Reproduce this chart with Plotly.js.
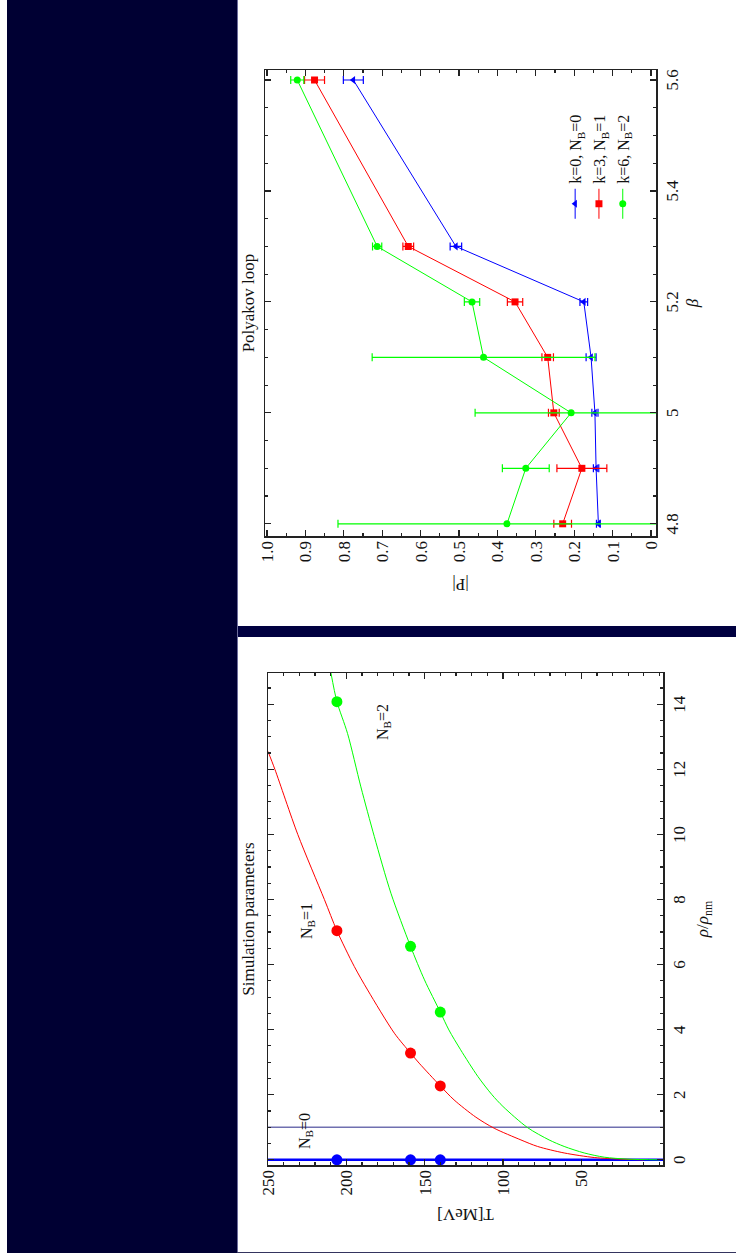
<!DOCTYPE html>
<html>
<head>
<meta charset="utf-8">
<script src="https://cdn.plot.ly/plotly-3.0.1.min.js"></script>
<style>
  html, body { margin: 0; padding: 0; width: 736px; height: 1258px; overflow: hidden; background: #ffffff; }
  /* the slide is laid out landscape and turned a quarter turn counter-clockwise */
  #slide { position: absolute; left: 0; top: 0; width: 1258px; height: 736px;
           transform-origin: 0 0; transform: translateY(1258px) rotate(-90deg); background: #ffffff; }
  #header  { position: absolute; left: 5px;   top: 7px;   width: 1253px; height: 230px; background: #000033; }
  #divider { position: absolute; left: 621px; top: 237px; width: 11px;   height: 499px; background: #000040; }
  #edgeTop { position: absolute; left: 5px;   top: 237px; width: 1253px; height: 1px;   background: #6c6c9c; }
  #edgeLeft{ position: absolute; left: 5px;   top: 237px; width: 1px;    height: 499px; background: #34345e; }
  #simPanel  { position: absolute; left: 6px;   top: 238px; width: 615px; height: 498px; }
  #polyPanel { position: absolute; left: 632px; top: 238px; width: 626px; height: 498px; }
</style>
</head>
<body>
<div id="slide">
  <div id="header"></div>
  <div id="divider"></div>
  <div id="edgeTop"></div>
  <div id="edgeLeft"></div>
  <div id="simPanel"></div>
  <div id="polyPanel"></div>
</div>
<script>
// ---------- Polyakov loop vs beta ----------
const betaValues = [4.8, 4.9, 5.0, 5.1, 5.2, 5.3, 5.6];
const polyK0 = [0.137, 0.143, 0.146, 0.156, 0.175, 0.508, 0.775];
const polyK0Err = [0.005, 0.007, 0.008, 0.013, 0.010, 0.015, 0.026];
const polyK3 = [0.230, 0.180, 0.253, 0.269, 0.354, 0.632, 0.876];
const polyK3Err = [0.023, 0.065, 0.014, 0.015, 0.020, 0.014, 0.026];
const polyK6 = [0.375, 0.326, 0.208, 0.436, 0.466, 0.713, 0.921];
const polyK6Err = [0.440, 0.061, 0.250, 0.290, 0.020, 0.012, 0.017];
const seriesNames = ['k=0, N<sub>B</sub>=0', 'k=3, N<sub>B</sub>=1', 'k=6, N<sub>B</sub>=2'];
const betaTickVals = [4.8, 5.0, 5.2, 5.4, 5.6];
const betaTickText = ['4.8', '5', '5.2', '5.4', '5.6'];
const polyTickVals = [0, 0.1, 0.2, 0.3, 0.4, 0.5, 0.6, 0.7, 0.8, 0.9, 1.0];
const polyTickText = ['0', '0.1', '0.2', '0.3', '0.4', '0.5', '0.6', '0.7', '0.8', '0.9', '1.0'];

// ---------- simulation parameters: T vs rho/rho_nm ----------
const simTemps = [140, 159, 206];
const rhoNB0 = [0, 0, 0];
const rhoNB1 = [2.27, 3.28, 7.04];
const rhoNB2 = [4.54, 6.56, 14.08];
const curveNB1Rho = [0, 0.02, 0.07, 0.21, 0.41, 0.61, 0.97, 1.31, 1.84, 2.27, 2.97, 3.28, 3.89, 5.22, 5.94, 7.04, 8.0, 10.0, 12.0, 12.55];
const curveNB1T   = [10, 24.6, 41.7, 60.9, 77.9, 88.5, 105.6, 117.3, 131.2, 140, 153.5, 159, 169.3, 186.4, 194.9, 206, 214, 231, 245.6, 250];
const curveNB2Rho = [0, 0.02, 0.08, 0.21, 0.41, 0.61, 0.99, 1.64, 2.0, 2.56, 3.38, 3.99, 4.54, 5.53, 6.56, 8.19, 9.93, 11.46, 13.1, 14.08, 14.96];
const curveNB2T   = [0, 20.3, 35.3, 48.1, 60.9, 70.5, 84.3, 100.0, 107.0, 116.0, 127.0, 134.5, 140, 150.1, 159, 171.5, 182.1, 190.7, 199.2, 206, 209.8];
const nbZeroRho = 0;      // pure-gauge line
const nuclearRho = 1;     // nuclear matter density
const rhoTickVals = [0, 2, 4, 6, 8, 10, 12, 14];
const tempTickVals = [50, 100, 150, 200, 250];
const nbLabels = ['N<sub>B</sub>=0', 'N<sub>B</sub>=1', 'N<sub>B</sub>=2'];
const nbLabelRho = [0.87, 7.35, 13.46];
const nbLabelT = [226, 225, 176];

const BLUE = '#0000ff', RED = '#ff0000', GREEN = '#00ff00';
const serif = 'Liberation Serif, Times New Roman, serif';
const frameAxis = {
  showline: true, mirror: 'allticks', linecolor: '#222222', linewidth: 1.5,
  ticks: 'inside', ticklen: 6, tickwidth: 1.2, tickcolor: '#222222',
  showgrid: false, zeroline: false, tickfont: { size: 17, color: '#111111' }
};

// Polyakov loop panel
const polyColors = [BLUE, RED, GREEN];
const polySymbols = ['triangle-up', 'square', 'circle'];
const polyY = [polyK0, polyK3, polyK6];
const polyErr = [polyK0Err, polyK3Err, polyK6Err];
const polyTraces = polyY.map((ys, i) => ({
  type: 'scatter', mode: 'lines+markers', name: seriesNames[i],
  x: betaValues, y: ys,
  line: { color: polyColors[i], width: 1 },
  marker: { color: polyColors[i], symbol: polySymbols[i], size: 7 },
  error_y: { type: 'data', array: polyErr[i], color: polyColors[i], thickness: 1.2, width: 4 }
}));

Plotly.newPlot('polyPanel', polyTraces, {
  width: 626, height: 498,
  margin: { l: 90, r: 70, t: 27, b: 80 },
  paper_bgcolor: '#ffffff', plot_bgcolor: '#ffffff',
  font: { family: serif, size: 16, color: '#111111' },
  title: { text: 'Polyakov loop', x: 0.5, xref: 'paper', y: 1 - 10 / 498, yref: 'container', yanchor: 'middle', font: { size: 17 } },
  xaxis: Object.assign({}, frameAxis, {
    range: [4.778, 5.618], tickmode: 'array', tickvals: betaTickVals, ticktext: betaTickText,
    minor: { tickmode: 'linear', tick0: 4.8, dtick: 0.05, ticks: 'inside', ticklen: 3, tickcolor: '#222222' },
    title: { text: '<i>β</i>', standoff: 5, font: { size: 17 } }
  }),
  yaxis: Object.assign({}, frameAxis, {
    range: [-0.013, 1.005], tickmode: 'array', tickvals: polyTickVals, ticktext: polyTickText,
    minor: { tickmode: 'linear', tick0: 0, dtick: 0.05, ticks: 'inside', ticklen: 3, tickcolor: '#222222' },
    title: { text: '|P|', standoff: 12, font: { size: 17 } }
  }),
  showlegend: true,
  legend: { x: 0.67, y: 0.25, xanchor: 'left', yanchor: 'top', bgcolor: 'rgba(0,0,0,0)', font: { size: 16 } }
}, { displayModeBar: false, staticPlot: true });

// Simulation parameters panel
const simTraces = [
  { type: 'scatter', mode: 'lines', x: curveNB1Rho, y: curveNB1T, line: { color: RED, width: 1, shape: 'spline', smoothing: 0.8 } },
  { type: 'scatter', mode: 'lines', x: curveNB2Rho, y: curveNB2T, line: { color: GREEN, width: 1, shape: 'spline', smoothing: 0.8 } },
  { type: 'scatter', mode: 'markers', x: rhoNB0, y: simTemps, marker: { color: BLUE, size: 11 } },
  { type: 'scatter', mode: 'markers', x: rhoNB1, y: simTemps, marker: { color: RED, size: 11 } },
  { type: 'scatter', mode: 'markers', x: rhoNB2, y: simTemps, marker: { color: GREEN, size: 11 } }
];

Plotly.newPlot('simPanel', simTraces, {
  width: 615, height: 498,
  margin: { l: 87, r: 36, t: 30, b: 73 },
  paper_bgcolor: '#ffffff', plot_bgcolor: '#ffffff',
  font: { family: serif, size: 16, color: '#111111' },
  title: { text: 'Simulation parameters', x: 0.5, xref: 'paper', y: 1 - 10 / 498, yref: 'container', yanchor: 'middle', font: { size: 17 } },
  xaxis: Object.assign({}, frameAxis, {
    range: [-0.16, 14.96], tickmode: 'array', tickvals: rhoTickVals,
    minor: { tickmode: 'linear', tick0: 0, dtick: 0.5, ticks: 'inside', ticklen: 3, tickcolor: '#222222' },
    title: { text: '<i>ρ</i>/<i>ρ</i><sub>nm</sub>', standoff: 8, font: { size: 17 } }
  }),
  yaxis: Object.assign({}, frameAxis, {
    range: [-2.2, 250], tickmode: 'array', tickvals: tempTickVals,
    minor: { tickmode: 'linear', tick0: 0, dtick: 10, ticks: 'inside', ticklen: 3, tickcolor: '#222222' },
    title: { text: 'T[MeV]', standoff: 8, font: { size: 17 } }
  }),
  shapes: [
    { type: 'line', layer: 'below', xref: 'x', yref: 'paper', x0: nbZeroRho, x1: nbZeroRho, y0: 0, y1: 1, line: { color: BLUE, width: 2.5 } },
    { type: 'line', layer: 'below', xref: 'x', yref: 'paper', x0: nuclearRho, x1: nuclearRho, y0: 0, y1: 1, line: { color: '#7070b0', width: 1.5 } }
  ],
  annotations: nbLabels.map((t, i) => ({
    text: t, x: nbLabelRho[i], y: nbLabelT[i], xref: 'x', yref: 'y', showarrow: false,
    font: { size: 16, color: '#111111' }
  })),
  showlegend: false
}, { displayModeBar: false, staticPlot: true });
</script>
</body>
</html>
